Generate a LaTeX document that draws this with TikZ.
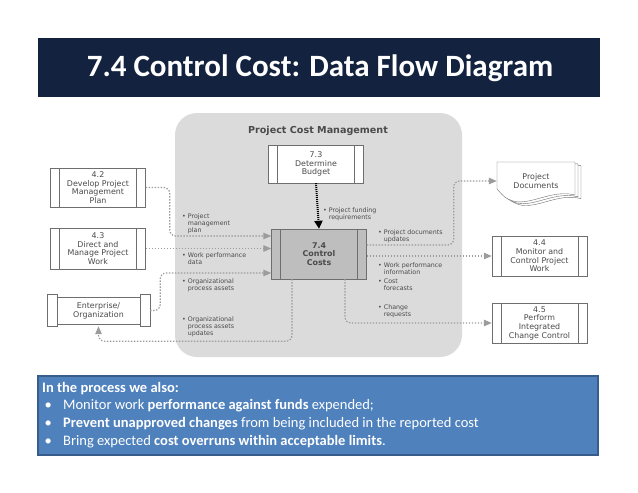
\documentclass[tikz,border=0pt]{standalone}
\usepackage{fontspec}
\setmainfont{Carlito}
\newfontfamily\dfd{DejaVu Sans}
\usetikzlibrary{arrows.meta}

\definecolor{navy}{HTML}{13223F}
\definecolor{region}{HTML}{DBDBDB}
\definecolor{boxline}{HTML}{6E6E6E}
\definecolor{txtgray}{HTML}{4A4A4A}
\definecolor{flowgray}{HTML}{9C9C9C}
\definecolor{ctrlfill}{HTML}{BEBEBE}
\definecolor{notefill}{HTML}{4F81BD}
\definecolor{noteline}{HTML}{385D8A}

\newcommand{\bul}[1]{\textbullet\hspace{2pt}\begin{tabular}[t]{@{}l@{}}#1\end{tabular}}

\begin{document}
\begin{tikzpicture}[x=1pt,y=-1pt,
  proc/.style={draw=boxline, fill=white, text=txtgray, align=center,
    font=\dfd\fontsize{7.9}{8.7}\selectfont, inner sep=1pt,
    minimum width=95pt, minimum height=39pt,
    path picture={
      \draw[boxline] ([xshift=9pt]path picture bounding box.north west) -- ([xshift=9pt]path picture bounding box.south west);
      \draw[boxline] ([xshift=-9pt]path picture bounding box.north east) -- ([xshift=-9pt]path picture bounding box.south east);}},
  flow/.style={draw=flowgray, line width=1.2pt, dash pattern=on 1.4pt off 1.6pt,
    rounded corners=6pt, -{Triangle[length=8pt,width=6.5pt,fill=flowgray]}},
  lbl/.style={anchor=north west, inner sep=0pt, text=txtgray,
    font=\dfd\fontsize{6.3}{7}\selectfont}]
\useasboundingbox (0,0) rectangle (638,493);

% title bar
\fill[navy] (38,38) rectangle (600,97);
\node[text=white, font=\bfseries\fontsize{31}{34}\selectfont] (title) at (320,68) {7.4 Control Cost: Data Flow Diagram};

% project cost management area
\fill[region, rounded corners=22pt] (175,113) rectangle (462,357);
\node[text=txtgray, font=\dfd\bfseries\fontsize{9.6}{11}\selectfont] (pcm) at (318,131) {Project Cost Management};

% processes
\node[proc, minimum height=38pt] (b73) at (316,164) {7.3\\Determine\\Budget};
\node[proc, fill=ctrlfill, minimum height=50pt, font=\dfd\bfseries\fontsize{7.9}{8.7}\selectfont] (b74) at (319,254) {7.4\\Control\\Costs};
\node[proc] (b42) at (98,187.5) {4.2\\Develop Project\\Management\\Plan};
\node[proc, minimum height=41pt] (b43) at (98,248.5) {4.3\\Direct and\\Manage Project\\Work};
\node[proc, minimum height=40pt] (b44) at (539.5,256) {4.4\\Monitor and\\Control Project\\Work};
\node[proc, minimum height=40pt] (b45) at (539.5,323) {4.5\\Perform\\Integrated\\Change Control};

% enterprise / organization
\node[draw=boxline, fill=white, text=txtgray, align=center, inner sep=1pt,
  font=\dfd\fontsize{7.9}{8.7}\selectfont, minimum width=83pt, minimum height=27pt] (ent) at (98.5,310.5) {Enterprise/\\Organization};
\draw[boxline, fill=white] ([xshift=-10pt,yshift=2.5pt]ent.north west) rectangle ([yshift=-2pt]ent.south west);
\draw[boxline, fill=white] ([yshift=2.5pt]ent.north east) rectangle ([xshift=10pt,yshift=-2pt]ent.south east);

% project documents
\foreach \d in {6,3,0}
  \draw[boxline, fill=white, shift={(\d,\d*0.6)}] (497,162) -- (575,162) -- (575,195)
    .. controls (552,189) and (530,206) .. (513,201) .. controls (505,198) .. (497,189) -- cycle;
\node[text=txtgray, align=center, font=\dfd\fontsize{7.9}{8.7}\selectfont, minimum width=78pt, minimum height=38pt] (doc) at (536,181) {Project\\Documents};

% flows
\draw[line width=2pt, dash pattern=on 1pt off 1pt, -{Triangle[length=8pt,width=8pt]}] (b73.south) -- (b74.north);
\draw[flow] (b42.east) -- ++(24,0) |- ([yshift=18pt]b74.west);
\draw[flow] (b43.east) -- (b43.east -| b74.west);
\draw[flow] (ent.east) ++(10,0) -- ++(10,0) |- ([yshift=-19pt]b74.west);
\draw[flow] ([xshift=-27pt]b74.south) -- ++(0,62) -| ([yshift=-2pt]ent.south);
\draw[flow] ([yshift=9pt]b74.east) -- ++(87,0) |- (doc.west);
\draw[flow] (b74.east |- b44.west) -- (b44.west);
\draw[flow] ([xshift=26pt]b74.south) |- (b45.west);

% flow labels
\node[lbl] (pmp) at (182,213) {\bul{Project\\management\\plan}};
\node[lbl] (wpd) at (182,252) {\bul{Work performance\\data}};
\node[lbl] (opa) at (182,278) {\bul{Organizational\\process assets}};
\node[lbl] (opau) at (182,316) {\bul{Organizational\\process assets\\updates}};
\node[lbl] (pfr) at (323,207) {\bul{Project funding\\requirements}};
\node[lbl] (pdu) at (378,229) {\bul{Project documents\\updates}};
\node[lbl] (wpi) at (378,262) {\bul{Work performance\\information}};
\node[lbl] (cf) at (378,278) {\bul{Cost\\forecasts}};
\node[lbl] (cr) at (378,304) {\bul{Change\\requests}};

% notes
\draw[noteline, fill=notefill, line width=1.2pt] (38,376) rectangle (598,455);
\node[anchor=north west, inner sep=0pt, text=white, align=left, font=\fontsize{14.5}{17.6}\selectfont] (notes) at (42,382) {\textbf{In the process we also:}\\
\makebox[21pt][l]{\,\textbullet}Monitor work \textbf{performance against funds} expended;\\
\makebox[21pt][l]{\,\textbullet}\textbf{Prevent unapproved changes} from being included in the reported cost\\
\makebox[21pt][l]{\,\textbullet}Bring expected \textbf{cost overruns within acceptable limits}.};
\end{tikzpicture}
\end{document}
